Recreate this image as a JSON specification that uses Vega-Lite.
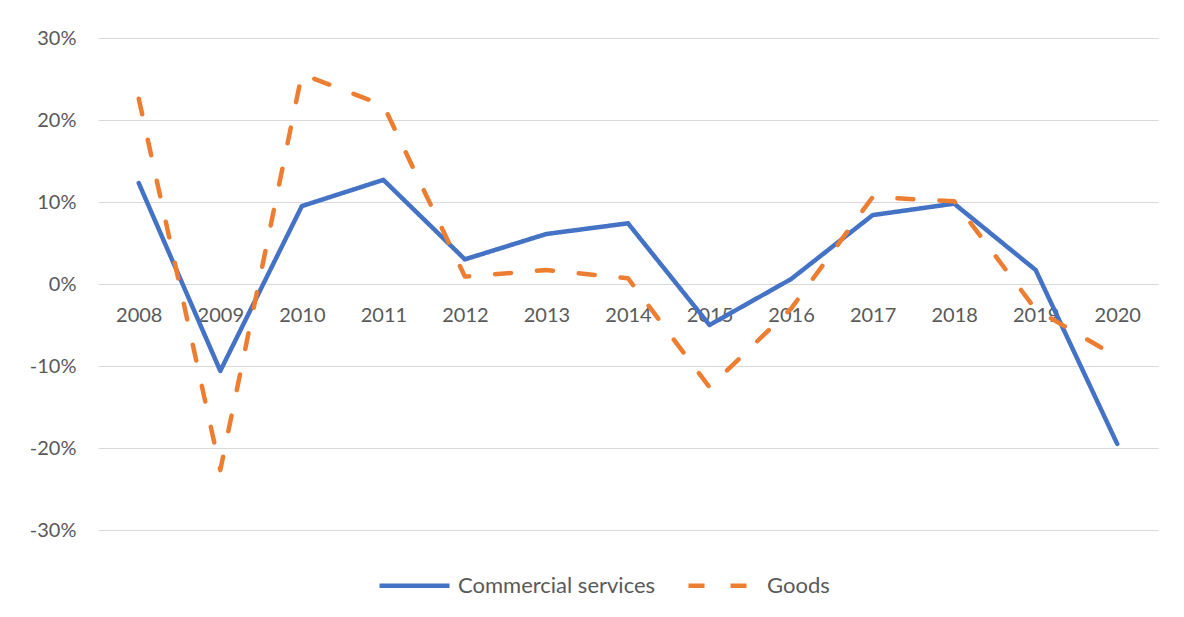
{
  "$schema": "https://vega.github.io/schema/vega-lite/v6.json",
  "width": 1060,
  "height": 492,
  "autosize": {"type": "none"},
  "padding": {"left": 98, "top": 38, "right": 26, "bottom": 87},
  "background": "white",
  "config": {
    "view": {"stroke": null},
    "font": "Lato",
    "legend": {
      "orient": "none",
      "legendX": 279,
      "legendY": 510,
      "direction": "horizontal",
      "symbolType": "stroke",
      "symbolSize": 4900,
      "symbolStrokeWidth": 4.5,
      "labelFontSize": 22,
      "labelColor": "#595959",
      "labelOffset": 6,
      "labelLimit": 400,
      "columnPadding": 23,
      "title": null
    }
  },
  "data": {
    "values": [
      {"year": "2008", "series": "Commercial services", "value": 0.123},
      {"year": "2009", "series": "Commercial services", "value": -0.106},
      {"year": "2010", "series": "Commercial services", "value": 0.095},
      {"year": "2011", "series": "Commercial services", "value": 0.127},
      {"year": "2012", "series": "Commercial services", "value": 0.030},
      {"year": "2013", "series": "Commercial services", "value": 0.061},
      {"year": "2014", "series": "Commercial services", "value": 0.074},
      {"year": "2015", "series": "Commercial services", "value": -0.050},
      {"year": "2016", "series": "Commercial services", "value": 0.006},
      {"year": "2017", "series": "Commercial services", "value": 0.084},
      {"year": "2018", "series": "Commercial services", "value": 0.098},
      {"year": "2019", "series": "Commercial services", "value": 0.017},
      {"year": "2020", "series": "Commercial services", "value": -0.195},
      {"year": "2008", "series": "Goods", "value": 0.226},
      {"year": "2009", "series": "Goods", "value": -0.227},
      {"year": "2010", "series": "Goods", "value": 0.256},
      {"year": "2011", "series": "Goods", "value": 0.218},
      {"year": "2012", "series": "Goods", "value": 0.009},
      {"year": "2013", "series": "Goods", "value": 0.017},
      {"year": "2014", "series": "Goods", "value": 0.007},
      {"year": "2015", "series": "Goods", "value": -0.126},
      {"year": "2016", "series": "Goods", "value": -0.030},
      {"year": "2017", "series": "Goods", "value": 0.106},
      {"year": "2018", "series": "Goods", "value": 0.101},
      {"year": "2019", "series": "Goods", "value": -0.031},
      {"year": "2020", "series": "Goods", "value": -0.089}
    ]
  },
  "mark": {"type": "line", "strokeWidth": 4.5, "strokeCap": "round", "strokeJoin": "round"},
  "encoding": {
    "x": {
      "field": "year",
      "type": "ordinal",
      "axis": {
        "orient": "bottom",
        "offset": -246,
        "domain": false,
        "ticks": false,
        "grid": false,
        "labelAngle": 0,
        "labelPadding": 21,
        "labelFontSize": 20,
        "labelColor": "#595959",
        "title": null
      }
    },
    "y": {
      "field": "value",
      "type": "quantitative",
      "scale": {"domain": [-0.3, 0.3]},
      "axis": {
        "format": ".0%",
        "labelExpr": "replace(datum.label, '\u2212', '-')",
        "values": [-0.3, -0.2, -0.1, 0, 0.1, 0.2, 0.3],
        "title": null,
        "domain": false,
        "ticks": false,
        "labelPadding": 22,
        "labelFontSize": 20,
        "labelColor": "#595959",
        "gridColor": "#d9d9d9",
        "gridWidth": 1
      }
    },
    "color": {
      "field": "series",
      "type": "nominal",
      "scale": {"domain": ["Commercial services", "Goods"], "range": ["#4472C4", "#ED7D31"]},
      "legend": {"title": null}
    },
    "strokeDash": {
      "field": "series",
      "type": "nominal",
      "scale": {"domain": ["Commercial services", "Goods"], "range": [[1, 0], [16, 26]]},
      "legend": {"title": null}
    }
  }
}
